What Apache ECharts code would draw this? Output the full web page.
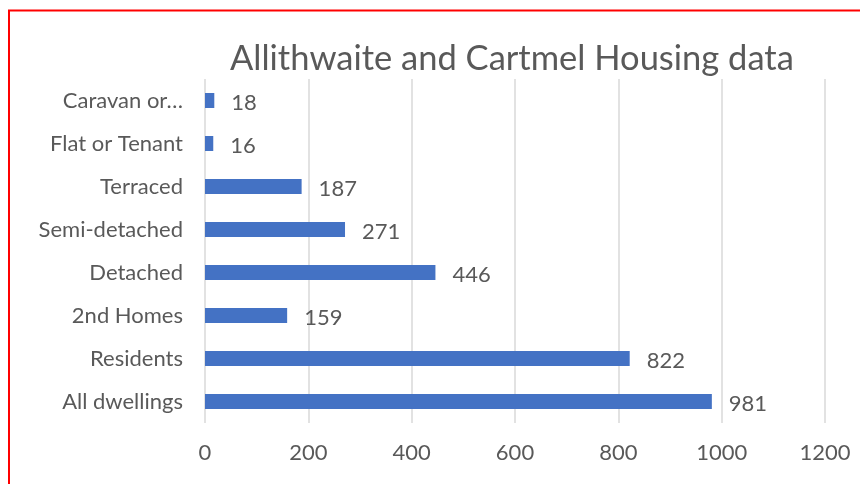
<!DOCTYPE html>
<html>
<head>
<meta charset="utf-8">
<style>
  html, body { margin: 0; padding: 0; background: #fff; }
  #chart { width: 860px; height: 484px; }
</style>
<script src="https://cdn.jsdelivr.net/npm/echarts@6/dist/echarts.min.js"></script>
</head>
<body>
<div id="chart"></div>
<script>
const TITLE = "Allithwaite and Cartmel Housing data";
// bottom to top, as drawn on the category axis
const categories = [
  "All dwellings",
  "Residents",
  "2nd Homes",
  "Detached",
  "Semi-detached",
  "Terraced",
  "Flat or Tenant",
  "Caravan or…"
];
const dwellings = [981, 822, 159, 446, 271, 187, 16, 18];
const xTicks = [0, 200, 400, 600, 800, 1000, 1200];

const FONT = "Lato";
const TEXT = "#595959";

const chart = echarts.init(document.getElementById("chart"), null, { renderer: "canvas" });

chart.setOption({
  animation: false,
  backgroundColor: "#fff",
  title: {
    text: TITLE,
    left: 225,
    top: 36,
    textStyle: { fontFamily: FONT, fontSize: 34.5, fontWeight: "normal", color: TEXT }
  },
  graphic: [
    {
      type: "rect",
      shape: { x: 9, y: 10.5, width: 900, height: 600 },
      style: { fill: "none", stroke: "#ff0000", lineWidth: 2 },
      silent: true
    }
  ],
  grid: { left: 205, right: 35, top: 79, bottom: 61, containLabel: false },
  xAxis: {
    type: "value",
    min: xTicks[0],
    max: xTicks[xTicks.length - 1],
    interval: xTicks[1] - xTicks[0],
    axisLine: { show: false },
    axisTick: { show: false },
    splitLine: { show: true, lineStyle: { color: "#d9d9d9", width: 1.5 } },
    axisLabel: {
      fontFamily: FONT,
      fontSize: 22,
      color: TEXT,
      margin: 19,
      formatter: (v) => String(v)
    }
  },
  yAxis: {
    type: "category",
    data: categories,
    axisLine: { show: false },
    axisTick: { show: false },
    axisLabel: { fontFamily: FONT, fontSize: 22, color: TEXT, margin: 22 }
  },
  series: [
    {
      type: "bar",
      data: dwellings,
      barWidth: 15,
      itemStyle: { color: "#4472c4" },
      label: {
        show: true,
        position: "right",
        distance: 17,
        offset: [0, 2],
        fontFamily: FONT,
        fontSize: 22,
        color: TEXT
      }
    }
  ]
});
</script>
</body>
</html>
